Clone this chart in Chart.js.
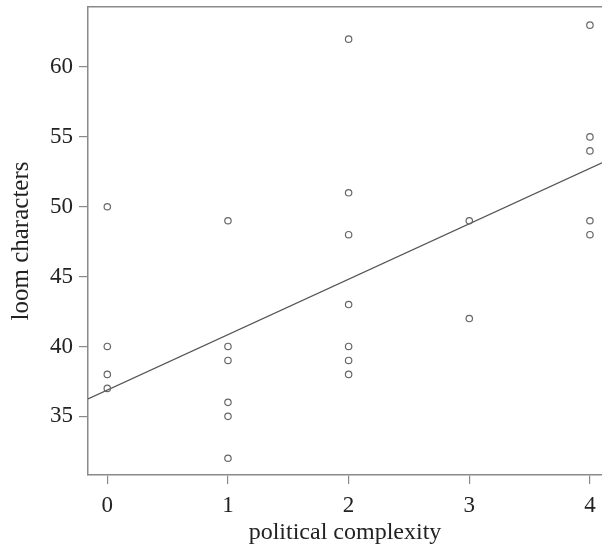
<!DOCTYPE html>
<html>
<head>
<meta charset="utf-8">
<script src="https://cdn.jsdelivr.net/npm/chart.js@4.4.1/dist/chart.umd.min.js"></script>
<style>
	html, body { margin: 0; padding: 0; background: #fff; }
	#wrap { width: 602px; height: 549px; }
</style>
</head>
<body>
<div id="wrap"><canvas id="chart" width="602" height="549"></canvas></div>
<script>
	"use strict";

	// political complexity (x) and loom characters (y), one entry per point
	var complexity = [0, 0, 0, 0,
		1, 1, 1, 1, 1, 1,
		2, 2, 2, 2, 2, 2, 2,
		3, 3,
		4, 4, 4, 4, 4];
	var loomChars = [50, 40, 38, 37,
		49, 40, 39, 36, 35, 32,
		62, 51, 48, 43, 40, 39, 38,
		49, 42,
		63, 55, 54, 49, 48];

	// fitted line, read at the two edges of the plot
	var fitX = [-0.16, 4.1];
	var fitY = [36.25, 53.15];

	var xTicks = [0, 1, 2, 3, 4];
	var yTicks = [35, 40, 45, 50, 55, 60];

	var axisGrey = "#8a8a8a";
	var serif = "'Liberation Serif', 'DejaVu Serif', serif";

	function toPoints(xs, ys) {
		return xs.map(function (x, i) { return { x: x, y: ys[i] }; });
	}

	// keep the plot box fixed: no extra room for half tick labels
	function noPadding(axis) {
		axis.paddingTop = 0;
		axis.paddingBottom = 0;
		axis.paddingLeft = 0;
		axis.paddingRight = 0;
	}

	new Chart(document.getElementById("chart"), {
		type: "scatter",
		data: {
			datasets: [{
				data: toPoints(complexity, loomChars),
				pointRadius: 3.2,
				pointBorderWidth: 1.2,
				pointBorderColor: "#666",
				pointBackgroundColor: "rgba(0,0,0,0)"
			}, {
				data: toPoints(fitX, fitY),
				showLine: true,
				pointRadius: 0,
				borderColor: "#555",
				borderWidth: 1.3
			}]
		},
		options: {
			responsive: false,
			animation: false,
			layout: { padding: 0, autoPadding: false },
			plugins: {
				legend: { display: false },
				tooltip: { enabled: false }
			},
			scales: {
				x: {
					type: "linear",
					position: "bottom",
					min: -0.16,
					max: 4.1,
					afterBuildTicks: function (axis) {
						axis.ticks = xTicks.map(function (v) { return { value: v }; });
					},
					afterFit: function (axis) { axis.height = 74; noPadding(axis); },
					grid: { drawOnChartArea: false, drawTicks: true, tickLength: 9, color: axisGrey, lineWidth: 1.2 },
					border: { display: true, color: axisGrey, width: 1.5 },
					ticks: { color: "#222", padding: 8, font: { family: serif, size: 23 } },
					title: {
						display: true,
						text: "political complexity",
						color: "#222",
						padding: { top: 0, bottom: 2 },
						font: { family: serif, size: 24 }
					}
				},
				top: {
					type: "linear",
					position: "top",
					min: -0.16,
					max: 4.1,
					afterFit: function (axis) { axis.height = 7; noPadding(axis); },
					grid: { display: false },
					border: { display: true, color: axisGrey, width: 1.5 },
					ticks: { display: false }
				},
				y: {
					min: 30.8,
					max: 64.3,
					afterBuildTicks: function (axis) {
						axis.ticks = yTicks.map(function (v) { return { value: v }; });
					},
					afterFit: function (axis) { axis.width = 88; noPadding(axis); },
					grid: { drawOnChartArea: false, drawTicks: true, tickLength: 9, color: axisGrey, lineWidth: 1.2 },
					border: { display: true, color: axisGrey, width: 1.5 },
					ticks: { color: "#222", padding: 6, font: { family: serif, size: 23 } },
					title: {
						display: true,
						text: "loom characters",
						color: "#222",
						padding: { top: 6, bottom: 0 },
						font: { family: serif, size: 25 }
					}
				}
			}
		}
	});
</script>
</body>
</html>
